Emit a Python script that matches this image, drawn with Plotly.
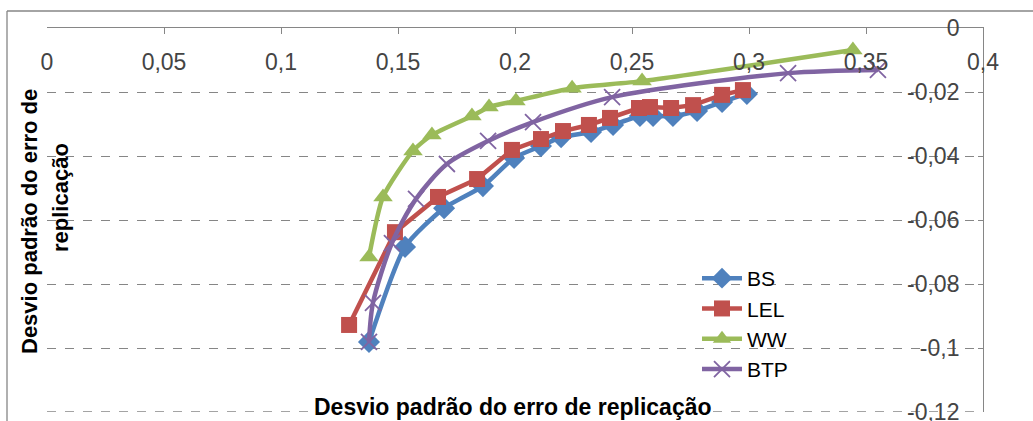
import plotly.graph_objects as go

# ---- data ----
bs_x = [0.1376, 0.1530, 0.1697, 0.1863, 0.1996, 0.2111, 0.2197, 0.2325, 0.2419, 0.2534, 0.2590, 0.2675, 0.2778, 0.2885, 0.2991]
bs_y = [-0.0981, -0.0684, -0.0563, -0.0494, -0.0406, -0.0369, -0.0341, -0.0325, -0.0303, -0.0275, -0.0275, -0.0275, -0.0259, -0.0231, -0.0206]

lel_x = [0.1291, 0.1487, 0.1671, 0.1838, 0.1987, 0.2111, 0.2205, 0.2316, 0.2406, 0.2530, 0.2577, 0.2667, 0.2761, 0.2885, 0.2974]
lel_y = [-0.0928, -0.0638, -0.0528, -0.0472, -0.0381, -0.0347, -0.0322, -0.0303, -0.0281, -0.0250, -0.0247, -0.0250, -0.0241, -0.0209, -0.0194]

ww_x = [0.1376, 0.1436, 0.1564, 0.1645, 0.1816, 0.1889, 0.2004, 0.2244, 0.2543, 0.3444]
ww_y = [-0.0716, -0.0528, -0.0384, -0.0334, -0.0275, -0.0247, -0.0228, -0.0188, -0.0166, -0.0069]

btp_x = [0.1376, 0.1393, 0.1474, 0.1577, 0.1709, 0.1885, 0.2077, 0.2415, 0.3167, 0.3551]
btp_y = [-0.0981, -0.0859, -0.0672, -0.0534, -0.0425, -0.0353, -0.0294, -0.0216, -0.0141, -0.0131]

x_tickvals = [0, 0.05, 0.1, 0.15, 0.2, 0.25, 0.3, 0.35, 0.4]
x_ticktext = ["0", "0,05", "0,1", "0,15", "0,2", "0,25", "0,3", "0,35", "0,4"]
y_tickvals = [0, -0.02, -0.04, -0.06, -0.08, -0.1, -0.12]
y_ticktext = ["0", "-0,02", "-0,04", "-0,06", "-0,08", "-0,1", "-0,12"]

axis_title = "Desvio padrão do erro de replicação"

FONT = "Liberation Sans"
GRAY = "#868686"

fig = go.Figure()
fig.add_trace(go.Scatter(x=bs_x, y=bs_y, name="BS", mode="lines+markers",
                         line=dict(color="#4F81BD", width=4.5, shape="spline", smoothing=0.6),
                         marker=dict(symbol="diamond", size=17, color="#4F81BD")))
fig.add_trace(go.Scatter(x=lel_x, y=lel_y, name="LEL", mode="lines+markers",
                         line=dict(color="#C0504D", width=4.5),
                         marker=dict(symbol="square", size=16, color="#C0504D")))
fig.add_trace(go.Scatter(x=ww_x, y=ww_y, name="WW", mode="lines+markers",
                         line=dict(color="#9BBB59", width=4.5, shape="spline", smoothing=0.6),
                         marker=dict(symbol="triangle-up", size=17, color="#9BBB59")))
fig.add_trace(go.Scatter(x=btp_x, y=btp_y, name="BTP", mode="lines+markers",
                         line=dict(color="#8064A2", width=4.5, shape="spline", smoothing=0.8),
                         marker=dict(symbol="x-thin", size=16, color="#8064A2",
                                     line=dict(color="#8064A2", width=1.8))))

L, R, T, B = 47, 50, 28, 9
W, H = 1033, 421
pw, ph = W - L - R, H - T - B

def px_x(p):
    return (p - L) / pw

def px_y(p):
    return (H - B - p) / ph

fig.update_layout(
    width=W, height=H, autosize=False,
    margin=dict(l=L, r=R, t=T, b=B, pad=0),
    paper_bgcolor="white", plot_bgcolor="white",
    font=dict(family=FONT, color="black"),
    showlegend=True,
    legend=dict(x=px_x(697), y=px_y(258), xanchor="left", yanchor="top",
                bgcolor="rgba(0,0,0,0)", font=dict(size=21, family=FONT),
                tracegroupgap=0, itemwidth=40),
    xaxis=dict(range=[0, 0.4], side="top", tickvals=x_tickvals, ticktext=x_ticktext,
               ticks="inside", ticklen=6, tickcolor=GRAY, ticklabelposition="inside",
               ticklabelstandoff=21, ticklabeloverflow="allow",
               showline=True, linecolor=GRAY, linewidth=1.3, showgrid=False,
               zeroline=False, automargin=False,
               tickfont=dict(size=23, family=FONT)),
    yaxis=dict(range=[-0.12, 0], side="right", tickvals=y_tickvals, ticktext=y_ticktext,
               ticks="inside", ticklen=5, tickcolor=GRAY, ticklabelposition="inside",
               ticklabelstandoff=20, ticklabeloverflow="allow",
               showline=True, linecolor=GRAY, linewidth=1.3,
               showgrid=True, gridcolor=GRAY, griddash="dash", gridwidth=1.3,
               zeroline=False, automargin=False,
               tickfont=dict(size=23, family=FONT)),
)

# bottom gridline at the range end (Plotly omits gridlines on the plot edge)
fig.add_shape(type="line", xref="paper", yref="y", layer="below",
              x0=0, x1=1, y0=y_tickvals[-1], y1=y_tickvals[-1],
              line=dict(color=GRAY, width=1.3, dash="dash"))

# outer chart frame
fig.add_shape(type="line", xref="paper", yref="paper",
              x0=px_x(7), x1=px_x(7), y0=px_y(11), y1=px_y(440),
              line=dict(color=GRAY, width=1.3))
fig.add_shape(type="line", xref="paper", yref="paper",
              x0=px_x(7), x1=px_x(1045), y0=px_y(11), y1=px_y(11),
              line=dict(color=GRAY, width=1.3))

# axis titles
fig.add_annotation(text="<b>" + axis_title + "</b>", xref="paper", yref="paper",
                   x=px_x(513), y=px_y(407), xanchor="center", yanchor="middle",
                   showarrow=False, font=dict(size=23, family=FONT), bgcolor="white",
                   borderpad=0)
fig.add_annotation(text="<b>Desvio padrão do erro de</b>", xref="paper", yref="paper",
                   x=px_x(30), y=px_y(222), xanchor="center", yanchor="middle", textangle=-90,
                   showarrow=False, font=dict(size=22, family=FONT))
fig.add_annotation(text="<b>replicação</b>", xref="paper", yref="paper",
                   x=px_x(60), y=px_y(198), xanchor="center", yanchor="middle", textangle=-90,
                   showarrow=False, font=dict(size=22, family=FONT))

fig.write_html("out.html")
